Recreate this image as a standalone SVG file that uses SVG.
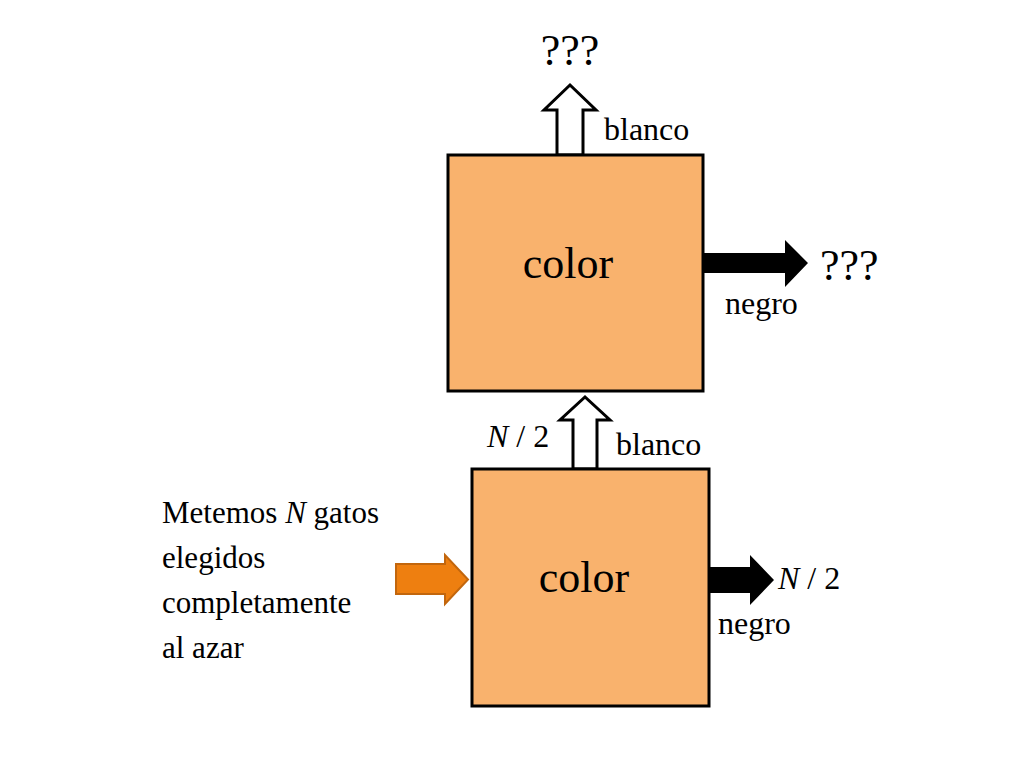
<svg xmlns="http://www.w3.org/2000/svg" width="1024" height="768" viewBox="0 0 1024 768">
<style>
text{font-family:'Liberation Serif','Times New Roman','DejaVu Serif',serif;fill:#000}
.box{fill:#F9B26D;stroke:#000;stroke-width:3}
.wa{fill:#fff;stroke:#000;stroke-width:3;stroke-linejoin:miter}
.ba{fill:#000}
</style>
<rect width="1024" height="768" fill="#fff"/>
<g id="connectors">
<path class="wa" d="M557,155 V110 H544 L570,85 L596,110 H583 V155 Z"/>
<path class="ba" d="M703,253 H785 V240 L808,263 L785,287 V273 H703 Z"/>
<path class="wa" d="M573,469 V420 H560 L585,397 L610,420 H597 V469 Z"/>
<path class="ba" d="M709,567 H750 V555 L774,580 L750,605 V593 H709 Z"/>
<path d="M396,564 H445 V555 L468,579.5 L445,604 V594 H396 Z" fill="#EE7F10" stroke="#C2660D" stroke-width="2"/>
</g>
<g id="box-top">
<rect class="box" x="448" y="155" width="255" height="236"/>
<text x="568" y="278" font-size="44" text-anchor="middle">color</text>
</g>
<g id="box-bottom">
<rect class="box" x="472" y="469" width="237" height="237"/>
<text x="584" y="592" font-size="44" text-anchor="middle">color</text>
</g>
<g id="labels">
<text x="570" y="65" font-size="44" text-anchor="middle">???</text>
<text x="604" y="140" font-size="32">blanco</text>
<text x="820" y="280" font-size="44">???</text>
<text x="725" y="314" font-size="32">negro</text>
<text x="487" y="447" font-size="32"><tspan font-style="italic">N</tspan> / 2</text>
<text x="616" y="455" font-size="32">blanco</text>
<text x="778" y="589" font-size="32"><tspan font-style="italic">N</tspan> / 2</text>
<text x="718" y="634" font-size="32">negro</text>
<text x="162" y="523" font-size="31">Metemos <tspan font-style="italic">N</tspan> gatos</text>
<text x="162" y="568" font-size="31">elegidos</text>
<text x="162" y="613" font-size="31">completamente</text>
<text x="162" y="658" font-size="31">al azar</text>
</g>
</svg>
